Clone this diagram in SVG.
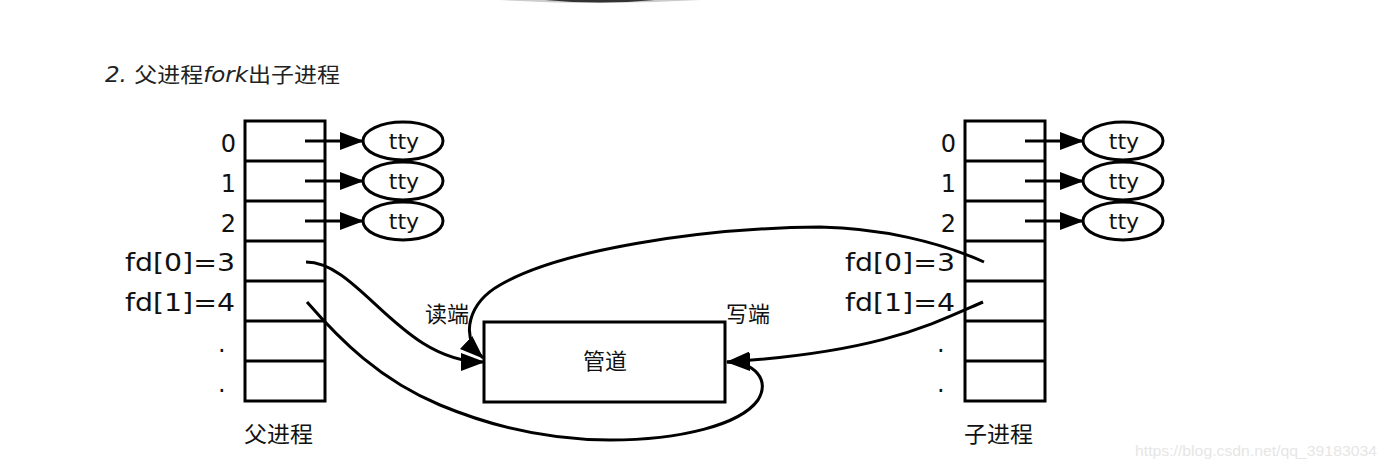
<svg xmlns="http://www.w3.org/2000/svg" width="1387" height="471" viewBox="0 0 1387 471">
<defs>
<marker id="arr" markerUnits="userSpaceOnUse" markerWidth="24" markerHeight="18" viewBox="0 0 24 18" refX="23" refY="9" orient="auto">
<path d="M0,0 L24,9 L0,18 Z" fill="#000"/>
</marker>
</defs>
<style>
.box{fill:#fff;stroke:#000;stroke-width:3}
.row{stroke:#000;stroke-width:3}
.ell{fill:#fff;stroke:#000;stroke-width:3}
.con{fill:none;stroke:#000;stroke-width:3}
.lbl{font-family:"DejaVu Sans","Noto Sans CJK SC",sans-serif;font-size:24px;fill:#111}
.tty{font-family:"DejaVu Sans",sans-serif;font-size:22px;fill:#111;text-anchor:middle}
.cjk{font-family:"Noto Sans CJK SC","DejaVu Sans",sans-serif;font-size:22px;fill:#111}
</style>
<rect width="1387" height="471" fill="#fff"/>
<path d="M500,0 Q600,6 700,0 Z" fill="#ccc"/>
<path d="M545,0 Q600,5 655,0 Z" fill="#333"/>
<text x="105" y="82" textLength="235" lengthAdjust="spacingAndGlyphs" style="font-family:'DejaVu Sans','Noto Sans CJK SC',sans-serif;font-size:21px;fill:#222"><tspan font-style="italic">2. </tspan>父进程<tspan font-style="italic">fork</tspan>出子进程</text>

<g id="parent">
<rect class="box" x="245" y="121" width="80" height="280"/>
<line class="row" x1="245" y1="161" x2="325" y2="161"/>
<line class="row" x1="245" y1="201" x2="325" y2="201"/>
<line class="row" x1="245" y1="241" x2="325" y2="241"/>
<line class="row" x1="245" y1="281" x2="325" y2="281"/>
<line class="row" x1="245" y1="321" x2="325" y2="321"/>
<line class="row" x1="245" y1="361" x2="325" y2="361"/>
<text class="lbl" x="236" y="152" text-anchor="end">0</text>
<text class="lbl" x="236" y="192" text-anchor="end">1</text>
<text class="lbl" x="236" y="232" text-anchor="end">2</text>
<text class="lbl" x="125" y="271" textLength="110" lengthAdjust="spacingAndGlyphs">fd[0]=3</text>
<text class="lbl" x="125" y="311" textLength="110" lengthAdjust="spacingAndGlyphs">fd[1]=4</text>
<text class="lbl" x="218" y="352">.</text>
<text class="lbl" x="218" y="392">.</text>
<text class="cjk" x="244" y="442" textLength="69" lengthAdjust="spacingAndGlyphs">父进程</text>
</g>
<g id="parent-tty">
<ellipse class="ell" cx="403" cy="141" rx="40" ry="19"/>
<ellipse class="ell" cx="403" cy="181" rx="40" ry="19"/>
<ellipse class="ell" cx="403" cy="221" rx="40" ry="19"/>
<text class="tty" x="404" y="149">tty</text>
<text class="tty" x="404" y="189">tty</text>
<text class="tty" x="404" y="229">tty</text>
</g>

<g id="child">
<rect class="box" x="965" y="121" width="80" height="280"/>
<line class="row" x1="965" y1="161" x2="1045" y2="161"/>
<line class="row" x1="965" y1="201" x2="1045" y2="201"/>
<line class="row" x1="965" y1="241" x2="1045" y2="241"/>
<line class="row" x1="965" y1="281" x2="1045" y2="281"/>
<line class="row" x1="965" y1="321" x2="1045" y2="321"/>
<line class="row" x1="965" y1="361" x2="1045" y2="361"/>
<text class="lbl" x="956" y="152" text-anchor="end">0</text>
<text class="lbl" x="956" y="192" text-anchor="end">1</text>
<text class="lbl" x="956" y="232" text-anchor="end">2</text>
<text class="lbl" x="845" y="271" textLength="110" lengthAdjust="spacingAndGlyphs">fd[0]=3</text>
<text class="lbl" x="845" y="311" textLength="110" lengthAdjust="spacingAndGlyphs">fd[1]=4</text>
<text class="lbl" x="937" y="352">.</text>
<text class="lbl" x="937" y="392">.</text>
<text class="cjk" x="964" y="442" textLength="69" lengthAdjust="spacingAndGlyphs">子进程</text>
</g>
<g id="child-tty">
<ellipse class="ell" cx="1123" cy="141" rx="40" ry="19"/>
<ellipse class="ell" cx="1123" cy="181" rx="40" ry="19"/>
<ellipse class="ell" cx="1123" cy="221" rx="40" ry="19"/>
<text class="tty" x="1124" y="149">tty</text>
<text class="tty" x="1124" y="189">tty</text>
<text class="tty" x="1124" y="229">tty</text>
</g>

<g id="pipe">
<rect class="box" x="484" y="322" width="241" height="80"/>
<text class="cjk" x="605" y="369" text-anchor="middle">管道</text>
<text class="cjk" x="425" y="322">读端</text>
<text class="cjk" x="726" y="322">写端</text>
</g>

<g id="connectors">
<line class="con" x1="305" y1="141" x2="363" y2="141" marker-end="url(#arr)"/>
<line class="con" x1="305" y1="181" x2="363" y2="181" marker-end="url(#arr)"/>
<line class="con" x1="305" y1="221" x2="363" y2="221" marker-end="url(#arr)"/>
<line class="con" x1="1025" y1="141" x2="1083" y2="141" marker-end="url(#arr)"/>
<line class="con" x1="1025" y1="181" x2="1083" y2="181" marker-end="url(#arr)"/>
<line class="con" x1="1025" y1="221" x2="1083" y2="221" marker-end="url(#arr)"/>
<path class="con" d="M306,262 C360,262 400,362 484,362" marker-end="url(#arr)"/>
<path class="con" d="M307,302 C340,340 380,380 440,405 C500,430 560,440 610,440 C680,440 740,425 758,400 C770,380 755,362 727,362" marker-end="url(#arr)"/>
<path class="con" d="M984,262 C940,242 880,228 820,227 C700,228 560,250 500,285 C470,302 458,335 483,358" marker-end="url(#arr)"/>
<path class="con" d="M983,302 C930,325 880,352 727,362" marker-end="url(#arr)"/>
</g>

<text x="1135" y="456" textLength="242" lengthAdjust="spacingAndGlyphs" style="font-family:'Liberation Sans',sans-serif;font-size:14px;fill:#e6e6e6">https://blog.csdn.net/qq_39183034</text>
</svg>
